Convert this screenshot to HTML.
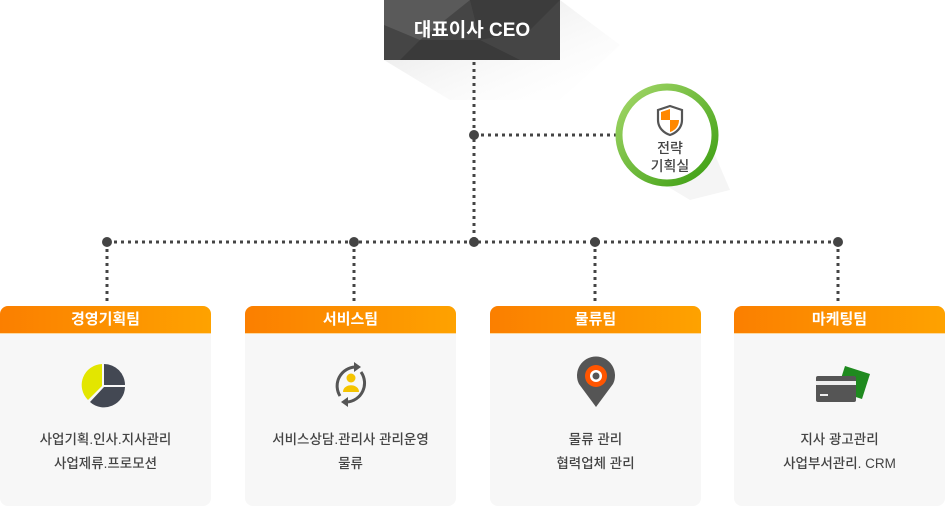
<!DOCTYPE html>
<html><head><meta charset="utf-8"><style>
body{margin:0;width:945px;height:506px;background:#fff;position:relative;overflow:hidden;font-family:"Liberation Sans","Noto Sans CJK KR",sans-serif}
.card{position:absolute;top:306px;width:211px;height:200px;background:#f7f7f7;border-radius:8px;overflow:hidden}
.hd{height:27px;background:linear-gradient(90deg,#fb7f00,#fea200);color:#fff;font-weight:bold;font-size:15px;text-align:center;line-height:27px;border-bottom:1px solid #fcd9a0}
.tx{position:absolute;top:122px;width:100%;text-align:center;font-size:13.5px;color:#444;line-height:24px;font-weight:500}
.ic{position:absolute;left:0;top:48px;width:100%;height:60px}
</style></head><body>
<svg width="945" height="506" style="position:absolute;left:0;top:0">
<defs><linearGradient id="sh" x1="0" y1="0" x2="1" y2="1"><stop offset="0" stop-color="#bbb" stop-opacity=".5"/><stop offset="1" stop-color="#fff" stop-opacity="0"/></linearGradient>
<linearGradient id="gr" x1="0" y1="0" x2="1" y2="1"><stop offset="0" stop-color="#a5d86a"/><stop offset="1" stop-color="#3a9d10"/></linearGradient></defs>
<polygon points="384,60 560,60 560,0 620,45 560,100 450,100" fill="url(#sh)"/>
<rect x="384" y="0" width="176" height="60" fill="#454545"/>
<polygon points="384,0 470,0 420,40 384,25" fill="#5a5a5a"/>
<polygon points="470,0 560,0 530,30 480,40" fill="#3c3c3c"/>
<polygon points="420,40 480,40 520,60 400,60" fill="#3a3a3a"/>
<text x="472" y="36" fill="#fff" font-size="19" font-weight="bold" text-anchor="middle" font-family="Liberation Sans,Noto Sans CJK KR,sans-serif">대표이사 CEO</text>
<g stroke="#444" stroke-width="3" stroke-dasharray="3,4">
<line x1="474" y1="62" x2="474" y2="242"/>
<line x1="474" y1="135" x2="618" y2="135"/>
<line x1="107" y1="242" x2="838" y2="242"/>
<line x1="107" y1="242" x2="107" y2="305"/>
<line x1="354" y1="242" x2="354" y2="305"/>
<line x1="595" y1="242" x2="595" y2="305"/>
<line x1="838" y1="242" x2="838" y2="305"/>
</g>
<g fill="#444"><circle cx="474" cy="135" r="5"/><circle cx="107" cy="242" r="5"/><circle cx="354" cy="242" r="5"/><circle cx="474" cy="242" r="5"/><circle cx="595" cy="242" r="5"/><circle cx="838" cy="242" r="5"/></g>
<polygon points="640,170 700,120 730,190 690,200" fill="#eee" opacity=".6"/>
<circle cx="667" cy="135" r="48" fill="#fff" stroke="url(#gr)" stroke-width="7"/>
<path d="M670,106 l12,4 v10 c0,8 -6,13 -12,15 c-6,-2 -12,-7 -12,-15 v-10z" fill="#fff" stroke="#555" stroke-width="2.2"/>
<path d="M670,109 v11 h-9 v-8z M670,120 h9 c0,7 -5,11 -9,12z" fill="#f80"/>
<text x="670" y="153" font-size="14" font-weight="500" fill="#444" text-anchor="middle" font-family="Liberation Sans,Noto Sans CJK KR,sans-serif">전략</text>
<text x="670" y="171" font-size="14" font-weight="500" fill="#444" text-anchor="middle" font-family="Liberation Sans,Noto Sans CJK KR,sans-serif">기획실</text>
</svg>
<div class="card" style="left:0"><div class="hd">경영기획팀</div>
<svg class="ic" viewBox="0 0 211 60"><path d="M104,10 A21,21 0 0 1 125,31 H104z" fill="#434853"/><path d="M125,33 A21,21 0 0 1 90,48 L104,33z" fill="#434853"/><path d="M88,46 A21,21 0 0 1 102,10 V32z" fill="#e3e600"/></svg>
<div class="tx">사업기획.인사.지사관리<br>사업제류.프로모션</div></div>
<div class="card" style="left:245px"><div class="hd">서비스팀</div>
<svg class="ic" viewBox="0 0 211 60"><path d="M95,42 A19,19 0 0 1 110,13" fill="none" stroke="#555" stroke-width="3"/><path d="M116,18 A19,19 0 0 1 102,48" fill="none" stroke="#555" stroke-width="3"/><polygon points="109,8 116,13 109,18" fill="#555"/><polygon points="103,43 96,48 103,53" fill="#555"/><circle cx="106" cy="24" r="4.5" fill="#f5c400"/><path d="M98,38 c0,-9 16,-9 16,0z" fill="#f5c400"/></svg>
<div class="tx">서비스상담.관리사 관리운영<br>물류</div></div>
<div class="card" style="left:490px"><div class="hd">물류팀</div>
<svg class="ic" viewBox="0 0 211 60"><path d="M106,53 L89,30 A19,19 0 1 1 123,30z" fill="#555"/><circle cx="106" cy="22" r="11" fill="#f50"/><circle cx="106" cy="22" r="6" fill="#fff"/><circle cx="106" cy="22" r="3.5" fill="#555"/></svg>
<div class="tx">물류 관리<br>협력업체 관리</div></div>
<div class="card" style="left:734px"><div class="hd">마케팅팀</div>
<svg class="ic" viewBox="0 0 211 60"><polygon points="111,12 136,20 128,45 103,37" fill="#1f8a1f"/><rect x="82" y="22" width="40" height="26" rx="2" fill="#555"/><rect x="82" y="27" width="40" height="4" fill="#eee"/><rect x="86" y="40" width="8" height="2" fill="#eee"/></svg>
<div class="tx">지사 광고관리<br>사업부서관리. CRM</div></div>
</body></html>
